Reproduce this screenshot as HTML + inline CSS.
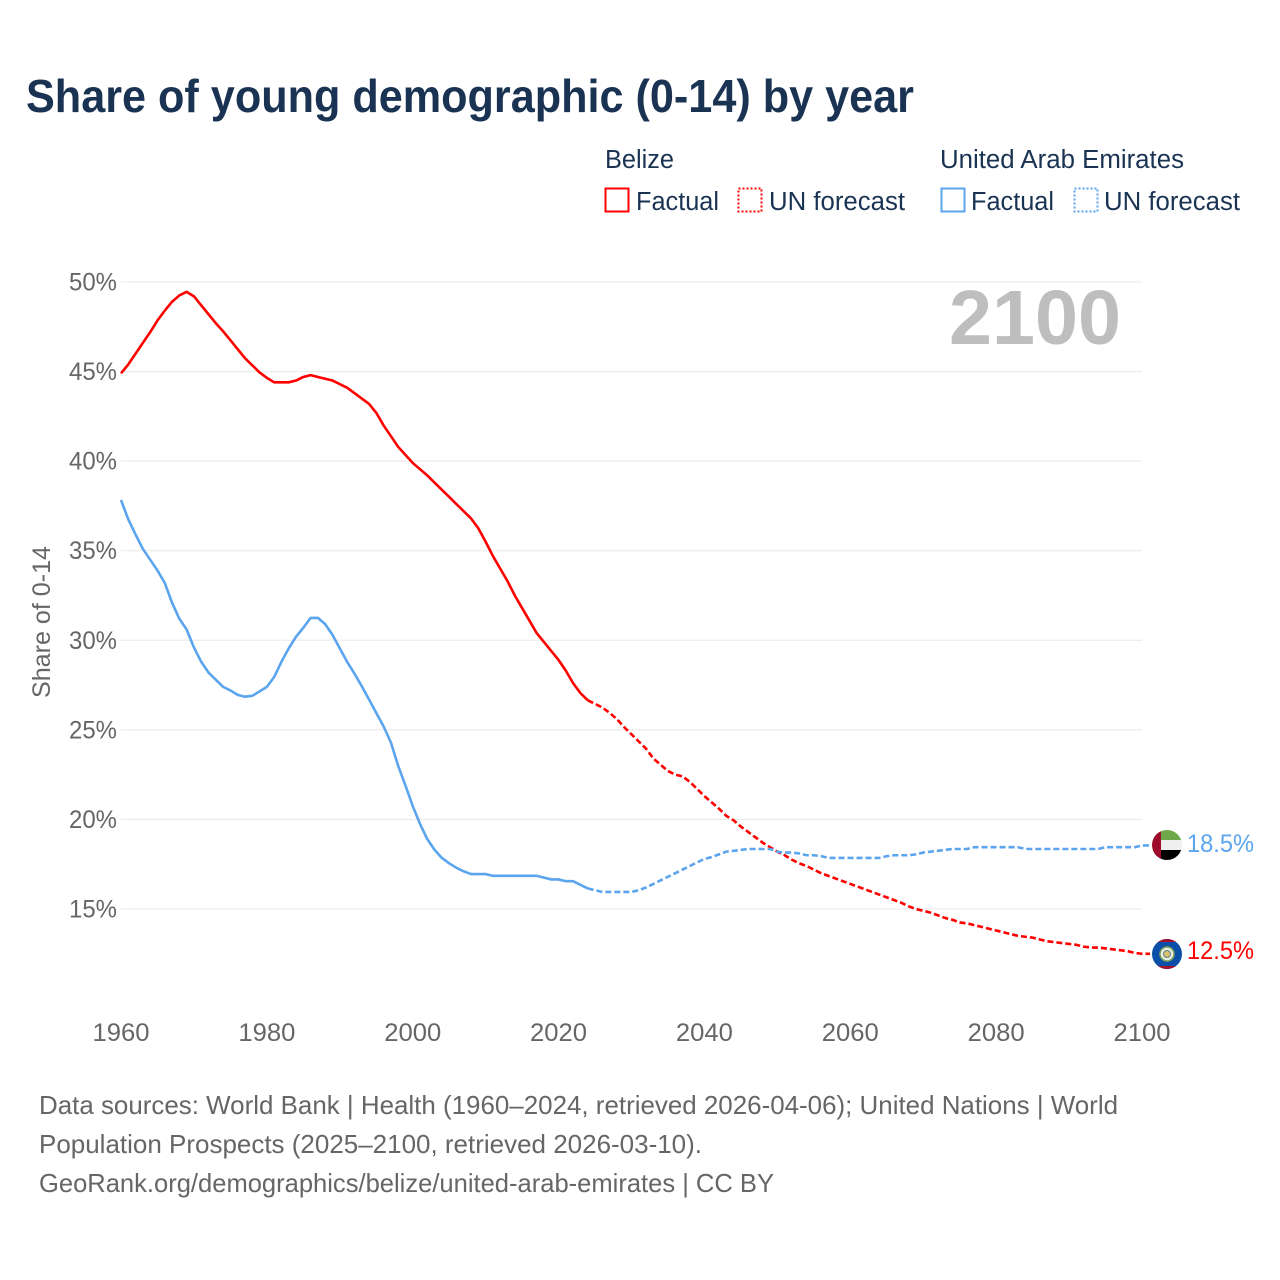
<!DOCTYPE html>
<html>
<head>
<meta charset="utf-8">
<title>Share of young demographic (0-14) by year</title>
<style>
html,body{margin:0;padding:0;background:#fff;}
svg{display:block;}
text{font-family:"Liberation Sans",sans-serif;}
</style>
</head>
<body>
<svg id="chart" width="1280" height="1280" viewBox="0 0 1280 1280" xmlns="http://www.w3.org/2000/svg">
<defs>
<clipPath id="clip-uae"><circle cx="1167" cy="845" r="15"/></clipPath>
<clipPath id="clip-bz"><circle cx="1167" cy="954" r="15"/></clipPath>
</defs>
<rect width="1280" height="1280" fill="#fff"/>
<text x="26" y="112" font-size="46" font-weight="700" fill="#1a3353" textLength="888" lengthAdjust="spacingAndGlyphs">Share of young demographic (0-14) by year</text>

<g font-size="25.5" fill="#1a3353">
<text x="605" y="168" textLength="69" lengthAdjust="spacingAndGlyphs">Belize</text>
<rect x="605.5" y="188.5" width="23" height="23" fill="none" stroke="#ff0000" stroke-width="2"/>
<text x="636" y="210" textLength="83" lengthAdjust="spacingAndGlyphs">Factual</text>
<rect x="738.5" y="188.5" width="23" height="23" fill="none" stroke="#ff0000" stroke-width="2" stroke-dasharray="2 2"/>
<text x="769" y="210" textLength="136" lengthAdjust="spacingAndGlyphs">UN forecast</text>
<text x="940" y="168" textLength="244" lengthAdjust="spacingAndGlyphs">United Arab Emirates</text>
<rect x="941.5" y="188.5" width="23" height="23" fill="none" stroke="#5ba4ee" stroke-width="2"/>
<text x="971" y="210" textLength="83" lengthAdjust="spacingAndGlyphs">Factual</text>
<rect x="1074.5" y="188.5" width="23" height="23" fill="none" stroke="#5ba4ee" stroke-width="2" stroke-dasharray="2 2"/>
<text x="1104" y="210" textLength="136" lengthAdjust="spacingAndGlyphs">UN forecast</text>
</g>

<g id="grid"></g>
<g id="yticks"></g>
<g id="xticks"></g>

<text transform="translate(50,622) rotate(-90)" text-anchor="middle" font-size="25" fill="#666" textLength="152" lengthAdjust="spacingAndGlyphs">Share of 0-14</text>
<text x="949" y="344" font-size="77" font-weight="700" fill="#bebebe" textLength="172" lengthAdjust="spacingAndGlyphs">2100</text>

<g id="series"></g>

<g clip-path="url(#clip-uae)">
<rect x="1152" y="830" width="30" height="10" fill="#6fa84a"/>
<rect x="1152" y="840" width="30" height="10" fill="#efefef"/>
<rect x="1152" y="850" width="30" height="10" fill="#000"/>
<rect x="1152" y="830" width="9" height="30" fill="#9e0b2b"/>
</g>
<g clip-path="url(#clip-bz)">
<rect x="1152" y="939" width="30" height="30" fill="#0b4fa8"/>
<rect x="1152" y="939" width="30" height="3" fill="#a5102c"/>
<rect x="1152" y="966" width="30" height="3" fill="#a5102c"/>
<circle cx="1167" cy="954" r="7" fill="#e9efe2" stroke="#7da05a" stroke-width="1.5"/>
<circle cx="1167" cy="954" r="3.5" fill="#d8c36a" stroke="#5f7f8f" stroke-width="1"/>
</g>

<text id="label-uae" x="1187" y="852" font-size="25" fill="#5ba4ee" textLength="67" lengthAdjust="spacingAndGlyphs">18.5%</text>
<text id="label-bz" x="1187" y="959" font-size="25" fill="#ff0000" textLength="67" lengthAdjust="spacingAndGlyphs">12.5%</text>

<g font-size="26" fill="#666">
<text x="39" y="1114" textLength="1079" lengthAdjust="spacingAndGlyphs">Data sources: World Bank | Health (1960–2024, retrieved 2026-04-06); United Nations | World</text>
<text x="39" y="1153" textLength="663" lengthAdjust="spacingAndGlyphs">Population Prospects (2025–2100, retrieved 2026-03-10).</text>
<text x="39" y="1192" textLength="735" lengthAdjust="spacingAndGlyphs">GeoRank.org/demographics/belize/united-arab-emirates | CC BY</text>
</g>
</svg>
<script>
const yTickValues = [50, 45, 40, 35, 30, 25, 20, 15];
const xTickYears = [1960, 1980, 2000, 2020, 2040, 2060, 2080, 2100];
const factualStartYear = 1960;
const forecastStartYear = 2025;
const belizeFactual = [44.9,45.4,46.0,46.6,47.2,47.85,48.4,48.9,49.25,49.45,49.2,48.7,48.2,47.7,47.25,46.75,46.25,45.75,45.35,44.95,44.65,44.4,44.4,44.4,44.5,44.7,44.8,44.7,44.6,44.5,44.3,44.1,43.8,43.5,43.2,42.7,42.0,41.4,40.8,40.35,39.9,39.55,39.2,38.8,38.4,38.0,37.6,37.2,36.8,36.25,35.5,34.7,34.0,33.3,32.5,31.8,31.1,30.4,29.9,29.4,28.9,28.3,27.6,27.05,26.65];
const belizeForecast = [26.45,26.25,25.95,25.6,25.15,24.75,24.35,23.95,23.4,23.05,22.7,22.5,22.4,22.1,21.7,21.3,20.95,20.6,20.2,19.95,19.6,19.3,19.0,18.7,18.45,18.2,18.0,17.75,17.55,17.4,17.2,17.0,16.85,16.7,16.55,16.4,16.25,16.1,15.95,15.8,15.65,15.5,15.35,15.15,15.0,14.9,14.8,14.65,14.5,14.4,14.25,14.2,14.1,14.0,13.9,13.8,13.7,13.6,13.5,13.45,13.4,13.3,13.2,13.15,13.1,13.05,13.0,12.9,12.85,12.85,12.8,12.75,12.7,12.65,12.55,12.5];
const uaeFactual = [37.83,36.75,35.9,35.1,34.5,33.9,33.2,32.1,31.2,30.6,29.6,28.8,28.2,27.8,27.4,27.2,26.95,26.85,26.9,27.15,27.4,27.95,28.8,29.55,30.2,30.7,31.25,31.25,30.9,30.3,29.55,28.8,28.15,27.45,26.7,25.95,25.2,24.3,23.0,21.9,20.75,19.75,18.9,18.3,17.85,17.55,17.3,17.1,16.95,16.95,16.95,16.85,16.85,16.85,16.85,16.85,16.85,16.85,16.75,16.65,16.65,16.55,16.55,16.35,16.15];
const uaeForecast = [16.05,15.95,15.95,15.95,15.95,15.95,16.05,16.2,16.4,16.6,16.8,17.0,17.2,17.4,17.6,17.8,17.9,18.05,18.2,18.25,18.3,18.35,18.35,18.35,18.35,18.2,18.15,18.15,18.1,18.0,18.0,17.95,17.85,17.85,17.85,17.85,17.85,17.85,17.85,17.85,17.95,18.0,18.0,18.0,18.05,18.15,18.2,18.25,18.3,18.35,18.35,18.35,18.45,18.45,18.45,18.45,18.45,18.45,18.45,18.35,18.35,18.35,18.35,18.35,18.35,18.35,18.35,18.35,18.35,18.35,18.45,18.45,18.45,18.45,18.45,18.55];

const SVG_NS = 'http://www.w3.org/2000/svg';
function xScale(year) { return 121 + (year - 1960) * (1142 - 121) / 140; }
function yScale(value) { return 282 + (50 - value) * (909 - 282) / 35; }

const grid = document.getElementById('grid');
const yticks = document.getElementById('yticks');
const xticks = document.getElementById('xticks');
const seriesGroup = document.getElementById('series');

yTickValues.forEach(function (v) {
  const line = document.createElementNS(SVG_NS, 'line');
  
  
  line.setAttribute('x1', xScale(1960));
  line.setAttribute('x2', xScale(2100));
  line.setAttribute('y1', yScale(v));
  line.setAttribute('y2', yScale(v));
  line.setAttribute('stroke', '#e8e8e8');
  line.setAttribute('stroke-width', '1');
  grid.appendChild(line);
  const label = document.createElementNS(SVG_NS, 'text');
  
  
  label.setAttribute('x', 69);
  label.setAttribute('y', yScale(v) + 8.5);
  label.setAttribute('font-size', '25');
  label.setAttribute('fill', '#666');
  label.setAttribute('textLength', '48');
  label.setAttribute('lengthAdjust', 'spacingAndGlyphs');
  label.textContent = v + '%';
  yticks.appendChild(label);
});

xTickYears.forEach(function (y) {
  const label = document.createElementNS(SVG_NS, 'text');
  
  
  label.setAttribute('x', xScale(y) - 28.5);
  label.setAttribute('y', 1041);
  label.setAttribute('font-size', '25');
  label.setAttribute('fill', '#666');
  label.setAttribute('textLength', '57');
  label.setAttribute('lengthAdjust', 'spacingAndGlyphs');
  label.textContent = y;
  xticks.appendChild(label);
});

function pointsFrom(values, startYear) {
  return values.map(function (v, i) {
    return xScale(startYear + i).toFixed(2) + ',' + yScale(v).toFixed(2);
  });
}

function drawPolyline(points, color, dashed, name) {
  const pl = document.createElementNS(SVG_NS, 'polyline');
  
  
  pl.setAttribute('points', points.join(' '));
  pl.setAttribute('fill', 'none');
  pl.setAttribute('stroke', color);
  pl.setAttribute('stroke-width', '2.6');
  pl.setAttribute('stroke-linejoin', 'round');
  if (dashed) pl.setAttribute('stroke-dasharray', '6 3');
  seriesGroup.appendChild(pl);
}

function drawSeries(factual, forecast, color, key) {
  drawPolyline(pointsFrom(factual, factualStartYear), color, false, key + '-factual-line');
  const last = factual[factual.length - 1];
  const fc = [xScale(forecastStartYear - 1).toFixed(2) + ',' + yScale(last).toFixed(2)].concat(pointsFrom(forecast, forecastStartYear));
  fc.push((xScale(2100) + 8).toFixed(2) + ',' + yScale(forecast[forecast.length - 1]).toFixed(2));
  drawPolyline(fc, color, true, key + '-forecast-line');
}

drawSeries(belizeFactual, belizeForecast, '#ff0000', 'belize');
drawSeries(uaeFactual, uaeForecast, '#5ba4ee', 'uae');
</script>
</body>
</html>
